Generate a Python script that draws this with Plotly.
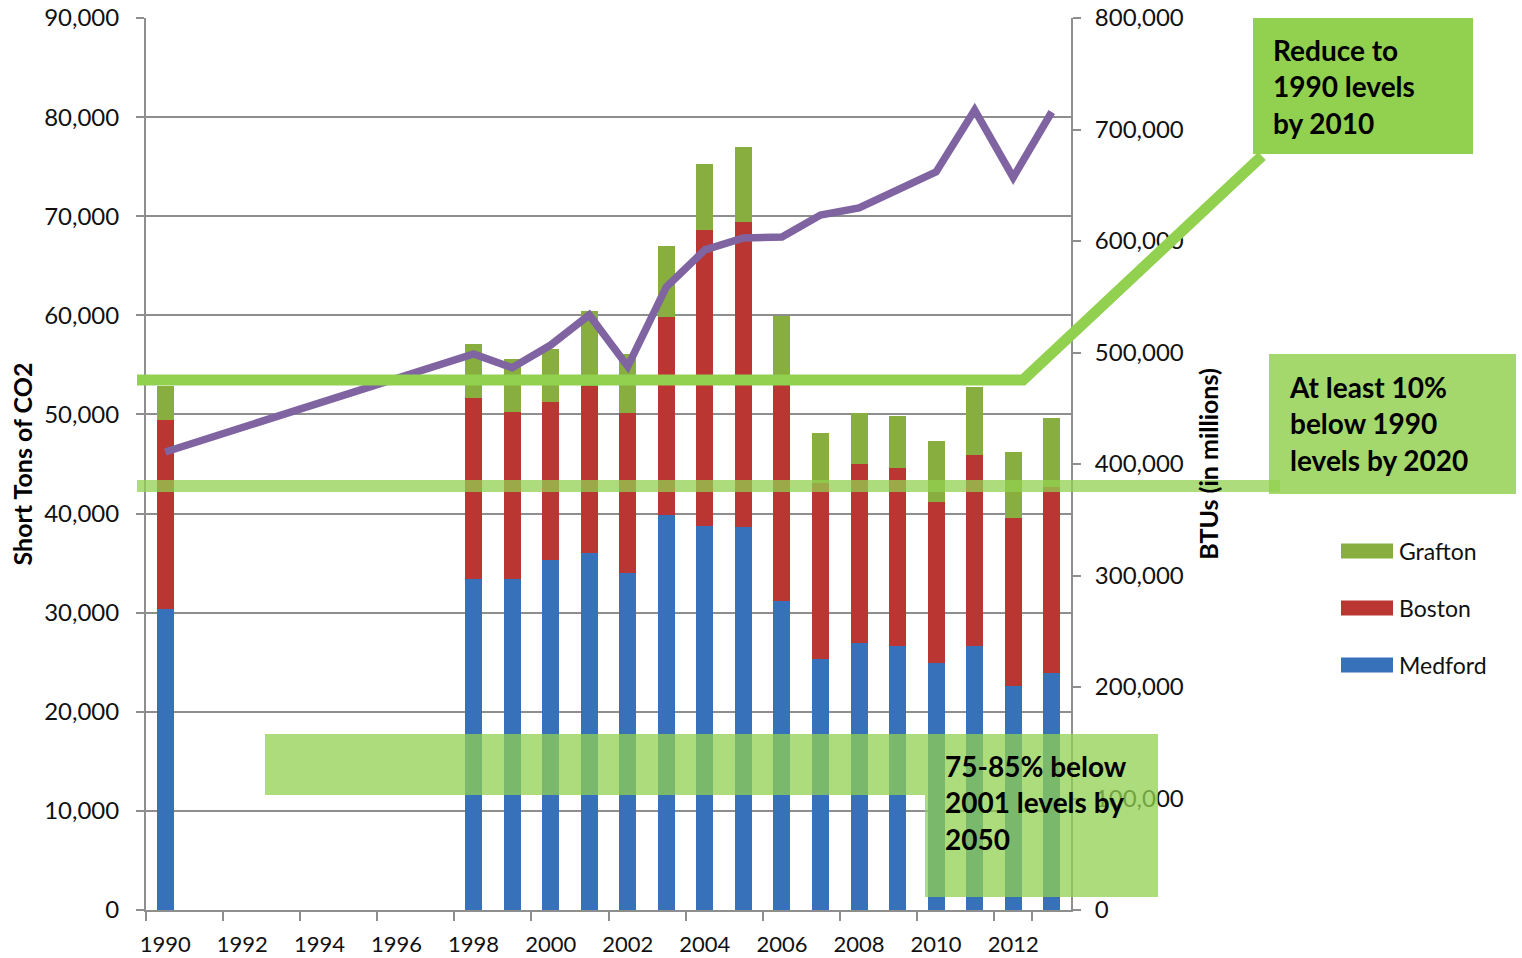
import plotly.graph_objects as go

# ---------------- data ----------------
years = [str(y) for y in range(1990, 2014)]
medford = [30400, None, None, None, None, None, None, None,
           33400, 33400, 35300, 36000, 34000, 39850, 38750, 38650,
           31200, 25300, 26900, 26600, 24900, 26600, 22600, 23900]
boston_top = [49450, None, None, None, None, None, None, None,
              51650, 50250, 51300, 52900, 50100, 59800, 68600, 69400,
              54000, 43100, 45000, 44600, 41200, 45900, 39550, 42700]
grafton_top = [52900, None, None, None, None, None, None, None,
               57100, 55600, 56600, 60400, 56100, 67000, 75300, 77000,
               59900, 48100, 50100, 49800, 47300, 52800, 46200, 49600]
btus = [410800, None, None, None, None, None, None, None,
        498700, 486400, 506700, 533700, 487500, 558800, 592000, 602700,
        603600, 623300, 629600, 645800, 662000, 717500, 657000, 715700]

boston = [None if b is None else b - m for b, m in zip(boston_top, medford)]
grafton = [None if g is None else g - b for g, b in zip(grafton_top, boston_top)]

series_names = ["Medford", "Boston", "Grafton"]
series_colors = ["#3771BA", "#B93633", "#87AE3E"]
line_color = "#8064A2"

# ---------------- geometry helpers (page pixel -> paper) ----------------
W, H = 1522, 958
L, R, T, B = 146, 1071, 18, 910


def px(x):
    return (x - L) / (R - L)


def py(y):
    return (B - y) / (B - T)


FONT = "Lato, 'Open Sans', sans-serif"

fig = go.Figure()
for name, vals, col in zip(series_names, [medford, boston, grafton], series_colors):
    fig.add_trace(go.Bar(x=years, y=vals, name=name, marker_color=col,
                         marker_line_width=0, showlegend=False))

fig.add_trace(go.Scatter(x=years, y=btus, yaxis="y2", mode="lines",
                         connectgaps=True, name="BTUs",
                         line=dict(color=line_color, width=7.5),
                         showlegend=False))

grid = "#8E8E8E"
title_font = dict(size=25, family=FONT, color="#000000", weight="bold")
fig.update_layout(
    width=W, height=H,
    margin=dict(l=L, r=W - R, t=T, b=H - B, autoexpand=False),
    paper_bgcolor="white", plot_bgcolor="white",
    barmode="stack", bargap=0.56,
    font=dict(family=FONT, size=24, color="#111111"),
    xaxis=dict(type="category", categoryorder="array", categoryarray=years,
               tickvals=[str(y) for y in range(1990, 2014, 2)],
               tickson="boundaries", ticks="outside", ticklen=9, tickwidth=2,
               tickcolor=grid, showline=True, linecolor=grid, linewidth=2,
               showgrid=False, ticklabelstandoff=14, tickangle=0,
               automargin=False, tickfont=dict(size=22)),
    yaxis=dict(range=[0, 90000], dtick=10000, tickformat=",",
               ticks="outside", ticklen=8, tickwidth=2, tickcolor=grid,
               showline=True, linecolor=grid, linewidth=2,
               showgrid=True, gridcolor=grid, gridwidth=2,
               zeroline=False, ticklabelstandoff=12, automargin=False,
               title=dict(text="Short Tons of CO2", font=title_font, standoff=4)),
    yaxis2=dict(range=[0, 800000], dtick=100000, tickformat=",",
                overlaying="y", side="right",
                ticks="outside", ticklen=8, tickwidth=2, tickcolor=grid,
                showline=True, linecolor=grid, linewidth=2,
                showgrid=False, zeroline=False, ticklabelstandoff=9,
                automargin=False,
                title=dict(text="BTUs (in millions)", font=title_font, standoff=18)),
)

shapes = []
# 1990 target line + diagonal to box
shapes.append(dict(type="path", xref="paper", yref="paper", layer="above",
                   path=f"M{px(137)},{py(380)} L{px(1023)},{py(380)} L{px(1262)},{py(156)}",
                   line=dict(color="#92D050", width=11)))
shapes.append(dict(type="rect", xref="paper", yref="paper", layer="above",
                   x0=px(1253), x1=px(1473), y0=py(154), y1=py(18),
                   fillcolor="#92D050", line=dict(width=0)))
# 10% below line + box
shapes.append(dict(type="line", xref="paper", yref="paper", layer="above",
                   x0=px(137), x1=px(1280), y0=py(486), y1=py(486),
                   line=dict(color="rgba(146,208,80,0.75)", width=12)))
shapes.append(dict(type="rect", xref="paper", yref="paper", layer="above",
                   x0=px(1269), x1=px(1516), y0=py(494), y1=py(354),
                   fillcolor="rgba(146,208,80,0.84)", line=dict(width=0)))
# 75-85% translucent band + box
shapes.append(dict(type="path", xref="paper", yref="paper", layer="above",
                   path=(f"M{px(265)},{py(734)} L{px(1158)},{py(734)} L{px(1158)},{py(897)} "
                         f"L{px(925)},{py(897)} L{px(925)},{py(795)} L{px(265)},{py(795)} Z"),
                   fillcolor="rgba(146,208,80,0.75)", line=dict(width=0)))

# manual legend swatches
legend_items = [("Grafton", series_colors[2], 551),
                ("Boston", series_colors[1], 608),
                ("Medford", series_colors[0], 665)]
for name, col, yc in legend_items:
    shapes.append(dict(type="rect", xref="paper", yref="paper",
                       x0=px(1341), x1=px(1393), y0=py(yc + 7.5), y1=py(yc - 7.5),
                       fillcolor=col, line=dict(width=0)))

annotations = []
for name, col, yc in legend_items:
    annotations.append(dict(xref="paper", yref="paper", x=px(1397), y=py(yc),
                            xanchor="left", yanchor="middle", showarrow=False,
                            text=name, font=dict(size=23, family=FONT, color="#111111")))

box_font = dict(size=28, family=FONT, color="#000000")
annotations.append(dict(xref="paper", yref="paper", x=px(1271), y=py(87),
                        xanchor="left", yanchor="middle", align="left", showarrow=False,
                        text="<b>Reduce to<br>1990 levels<br>by 2010</b>", font=box_font))
annotations.append(dict(xref="paper", yref="paper", x=px(1287), y=py(423),
                        xanchor="left", yanchor="middle", align="left", showarrow=False,
                        text="<b>At least 10%<br>below 1990<br>levels by 2020</b>", font=box_font))
annotations.append(dict(xref="paper", yref="paper", x=px(943), y=py(802),
                        xanchor="left", yanchor="middle", align="left", showarrow=False,
                        text="<b>75-85% below<br>2001 levels by<br>2050</b>", font=box_font))

fig.update_layout(shapes=shapes, annotations=annotations)
fig.write_html("out.html", config={"displayModeBar": False},
               post_script="document.body.style.margin='0';document.body.style.padding='0';")
